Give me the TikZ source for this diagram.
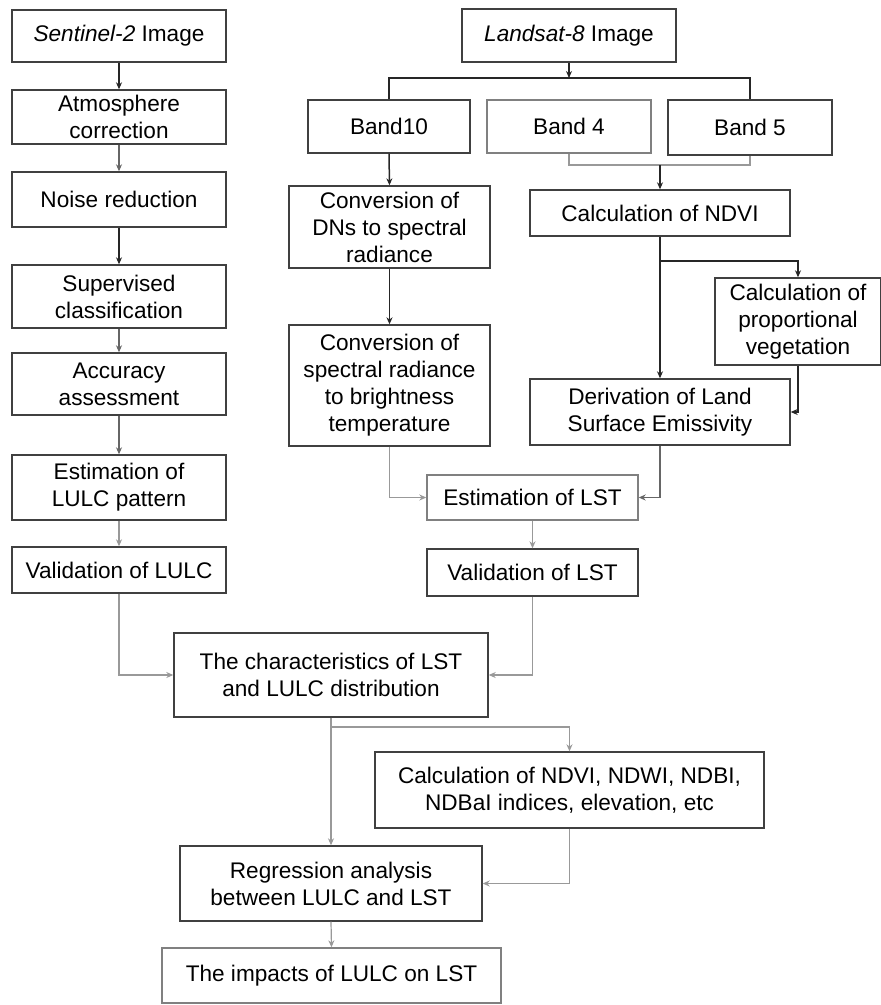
\documentclass[tikz,border=0pt]{standalone}
\usepackage{fontspec}
\setmainfont{Liberation Sans}
\usetikzlibrary{arrows.meta}
\begin{document}
\begin{tikzpicture}[x=1pt,y=-1pt,
  bx/.style 2 args={draw=black!75, line width=1.4pt, fill=white, minimum width=#1, minimum height=#2,
     inner sep=0pt, align=center, font=\fontsize{22.6}{27}\selectfont},
  lbx/.style 2 args={bx={#1}{#2}, draw=black!50},
  tip/.style={-{Stealth[length=7pt,width=6pt]}},
  dk/.style={draw=black!85, line width=1.5pt},
  md/.style={draw=black!60, line width=1.2pt},
  lt/.style={draw=black!40, line width=1.2pt},
  dkarr/.style={dk, tip},
  mdarr/.style={md, tip},
  ltarr/.style={lt, tip}]
\useasboundingbox (0,0) rectangle (881,1005);
% left column
\node[bx={214pt}{52pt}] (s2) at (119,36) {\textit{Sentinel-2} Image};
\node[bx={214pt}{54pt}] (atm) at (119,117) {Atmosphere\\correction};
\node[bx={214pt}{55pt}] (noise) at (119,199.5) {Noise reduction};
\node[bx={214pt}{63pt}] (sup) at (119,296.5) {Supervised\\classification};
\node[bx={214pt}{62pt}] (acc) at (119,384) {Accuracy\\assessment};
\node[bx={214pt}{65pt}] (estl) at (119,487.5) {Estimation of\\LULC pattern};
\node[bx={214pt}{46pt}] (vall) at (119,570) {Validation of LULC};
% right part
\node[bx={214pt}{53pt}] (l8) at (569,35.5) {\textit{Landsat-8} Image};
\node[bx={162pt}{53pt}] (b10) at (389,126.5) {Band10};
\node[lbx={164pt}{53pt}] (b4) at (569,126.5) {Band 4};
\node[bx={164pt}{55pt}] (b5) at (750,127.5) {Band 5};
\node[bx={260pt}{46pt}] (ndvi) at (660,213) {Calculation of NDVI};
\node[bx={201pt}{82pt}] (dns) at (389.5,227) {Conversion of\\DNs to spectral\\radiance};
\node[bx={201pt}{121pt}] (spr) at (389.5,385.5) {Conversion of\\spectral radiance\\to brightness\\temperature};
\node[bx={166pt}{87pt}] (prop) at (798,321.5) {Calculation of\\proportional\\vegetation};
\node[bx={260pt}{66pt}] (der) at (660,412) {Derivation of Land\\Surface Emissivity};
\node[lbx={211pt}{45pt}] (estlst) at (532.5,497.5) {Estimation of LST};
\node[bx={211pt}{47pt}] (vallst) at (532.5,572.5) {Validation of LST};
\node[bx={314pt}{84pt}] (char) at (331,675) {The characteristics of LST\\and LULC distribution};
\node[bx={389pt}{76pt}] (ndwi) at (569.5,790) {Calculation of NDVI, NDWI, NDBI,\\NDBaI indices, elevation, etc};
\node[bx={302pt}{75pt}] (reg) at (331,883.5) {Regression analysis\\between LULC and LST};
\node[lbx={339pt}{55pt}] (imp) at (331.5,975.5) {The impacts of LULC on LST};
% junctions
\coordinate (jl8) at (569,78);
\coordinate (jb) at (660,165);
\coordinate (jn) at (660,261);
\coordinate (jc) at (331,727);
% left column connectors
\draw[dkarr] (s2.south) -- (atm.north);
\draw[mdarr] (atm.south) -- (noise.north);
\draw[dkarr] (noise.south) -- (sup.north);
\draw[mdarr] (sup.south) -- (acc.north);
\draw[mdarr] (acc.south) -- (estl.north);
\draw[ltarr] (estl.south) -- (vall.north);
\draw[ltarr] (vall.south) |- (char.west);
% landsat connectors
\draw[dkarr] (l8.south) -- (jl8);
\draw[dk] (b10.north) -- (b10.north |- jl8) -- (b5.north |- jl8) -- (b5.north);
\draw[lt] (b4.south) -- (b4.south |- jb) -- (b5.south |- jb) -- (b5.south);
\draw[dkarr] (jb) -- (ndvi.north);
\draw[dkarr] (b10.south) -- (dns.north);
\draw[dkarr] (dns.south) -- (spr.north);
\draw[dkarr] (ndvi.south) -- (der.north);
\draw[dkarr] (jn) -| (prop.north);
\draw[dkarr] (prop.south) |- (der.east);
\draw[ltarr] (spr.south) |- (estlst.west);
\draw[mdarr] (der.south) |- (estlst.east);
\draw[ltarr] (estlst.south) -- (vallst.north);
\draw[ltarr] (vallst.south) |- (char.east);
% bottom
\draw[ltarr] (char.south) -- (reg.north);
\draw[ltarr] (jc) -| (ndwi.north);
\draw[ltarr] (ndwi.south) |- (reg.east);
\draw[ltarr] (reg.south) -- (imp.north);
\end{tikzpicture}
\end{document}
